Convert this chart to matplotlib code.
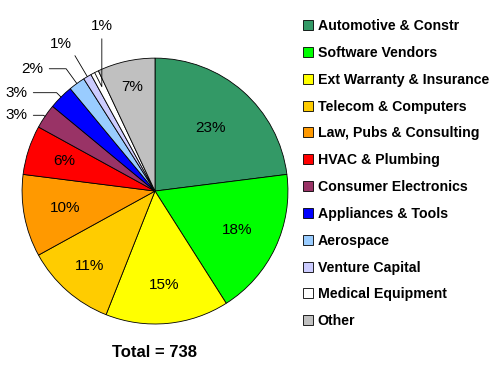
import matplotlib
matplotlib.use('Agg')
import matplotlib.pyplot as plt
import numpy as np
from matplotlib.patches import Patch

categories = ['Automotive & Constr', 'Software Vendors', 'Ext Warranty & Insurance',
              'Telecom & Computers', 'Law, Pubs & Consulting', 'HVAC & Plumbing',
              'Consumer Electronics', 'Appliances & Tools', 'Aerospace',
              'Venture Capital', 'Medical Equipment', 'Other']
shares = [23, 18, 15, 11, 10, 6, 3, 3, 2, 1, 1, 7]
total = 738

colors = ['#339966', '#00FF00', '#FFFF00', '#FFCC00', '#FF9900', '#FF0000',
          '#993366', '#0000FF', '#99CCFF', '#CCCCFF', '#FFFFFF', '#C0C0C0']

# label placement (style)
inside_radius = [0.63, 0.68, 0.71, 0.75, 0.69, 0.72, None, None, None, None, None, 0.8]
outside_text = {6: (-1.04, 0.57), 7: (-1.04, 0.74), 8: (-0.92, 0.92),
                9: (-0.71, 1.11), 10: (-0.40, 1.24)}

FONT = 'Liberation Sans'

fig = plt.figure(figsize=(5, 3.75), dpi=100)
ax = fig.add_axes([0.044, 0.136, 0.532, 0.709])
wedges, _ = ax.pie(shares, colors=colors, startangle=90, counterclock=False,
                   wedgeprops=dict(edgecolor='black', linewidth=0.6))
ax.set_xlim(-1, 1)
ax.set_ylim(-1, 1)
ax.set_aspect('equal')

s = sum(shares)
cum = np.cumsum([0] + shares[:-1])
for i, v in enumerate(shares):
    mid = np.deg2rad(90 - 360 * (cum[i] + v / 2) / s)
    lab = f'{round(100 * v / s)}%'
    if inside_radius[i] is not None:
        r = inside_radius[i]
        ax.text(r * np.cos(mid), r * np.sin(mid), lab, ha='center', va='center',
                fontsize=11, family=FONT)
    else:
        tx, ty = outside_text[i]
        angA = 90 if i == 10 else 0
        ax.annotate(lab, xy=(np.cos(mid), np.sin(mid)), xytext=(tx, ty),
                    ha='center', va='center', fontsize=11, family=FONT,
                    annotation_clip=False,
                    arrowprops=dict(arrowstyle='-', color='black', lw=0.6,
                                    shrinkA=2, shrinkB=0,
                                    connectionstyle=f'angle,angleA={angA},angleB={np.rad2deg(mid):.1f},rad=0'))

handles = [Patch(facecolor=c, edgecolor='black', linewidth=0.6) for c in colors]
fig.legend(handles, categories, loc='upper left', bbox_to_anchor=(0.606, 0.949),
           bbox_transform=fig.transFigure, frameon=False, borderpad=0,
           borderaxespad=0, handlelength=0.7, handleheight=0.7, handletextpad=0.35,
           labelspacing=0.905, prop=dict(family=FONT, weight='bold', size=10.2))

fig.text(0.31, 0.06, f'Total = {total}', ha='center', va='center', fontsize=12,
         fontweight='bold', family=FONT)

fig.savefig('out.png', dpi=100)
